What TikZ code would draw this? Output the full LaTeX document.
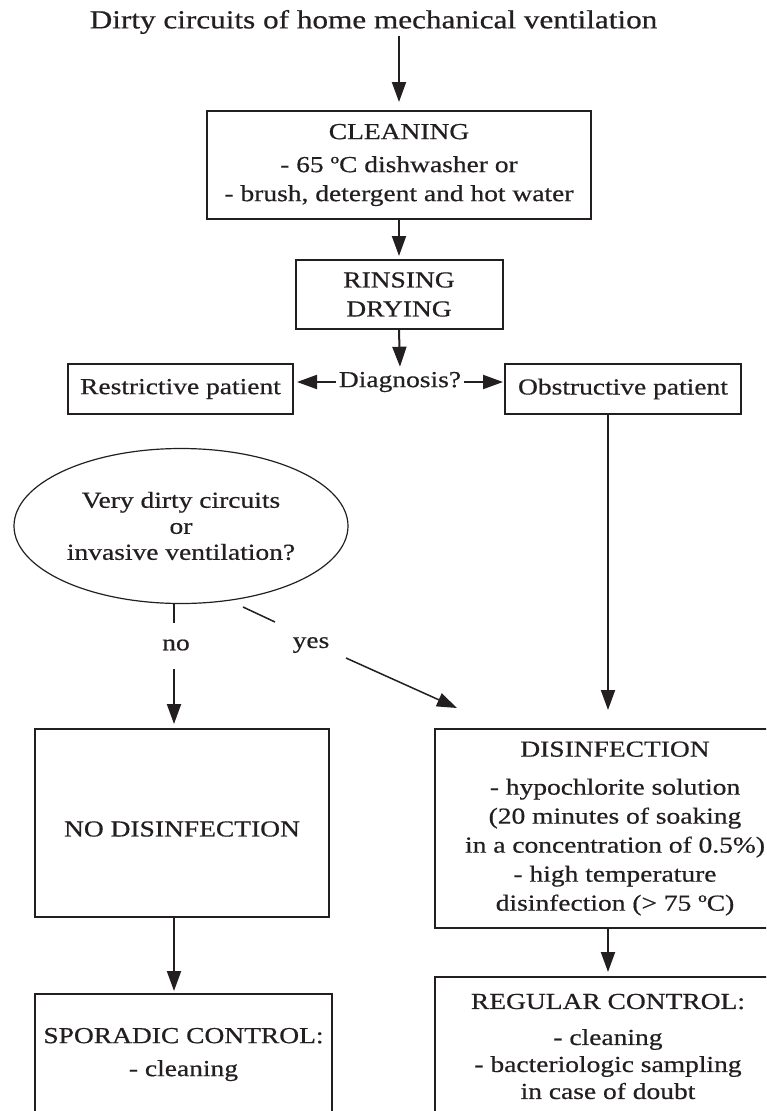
\documentclass[tikz,border=0pt]{standalone}
\usepackage{fontspec}
\setmainfont{Liberation Serif}[FakeStretch=1.2, FakeBold=0.6]
\usetikzlibrary{arrows.meta,shapes.geometric}
\definecolor{ink}{HTML}{231F20}
\newcommand{\bodyfnt}{\fontsize{22.9}{29}\selectfont}
\newcommand{\titlefnt}{\fontsize{26}{31}\selectfont}
\tikzset{
  every node/.style={font=\bodyfnt, text=ink},
  box/.style={draw=ink, line width=2pt, align=center, inner sep=0pt},
  arr/.style={draw=ink, fill=ink, -{Triangle[length=20pt,width=14pt]}, line width=2pt},
  ln/.style={draw=ink, line width=2pt},
}
\begin{document}
\begin{tikzpicture}[x=1pt,y=-1pt]
\useasboundingbox (0,0) rectangle (766,1111);
\clip (0,0) rectangle (766,1111);

\node[font=\titlefnt, inner sep=2pt] (title) at (373.5,22) {Dirty circuits of home mechanical ventilation};
\node[box, minimum width=384pt, minimum height=108pt] (clean) at (399,165)
  {CLEANING\\[4pt]- 65 ºC dishwasher or\\- brush, detergent and hot water};
\node[box, minimum width=207pt, minimum height=69pt] (rinse) at (399,294.5) {RINSING\\DRYING};
\node[inner sep=3pt] (diag) at (400,382) {Diagnosis?};
\node[box, minimum width=225pt, minimum height=50pt] (restr) at (180.5,389) {Restrictive patient};
\node[box, minimum width=236pt, minimum height=50pt] (obstr) at (623,389) {Obstructive patient};

\node[draw=ink, line width=1.2pt, ellipse, inner sep=0pt, align=center,
      minimum width=334pt, minimum height=155pt] (ell) at (181,526)
  {Very dirty circuits\\[-3pt]or\\[-3pt]invasive ventilation?};

\node[inner sep=0pt] (no) at (176,645) {no};
\node[inner sep=0pt] (yes) at (311,645) {yes};

\node[box, minimum width=294pt, minimum height=188pt] (nodis) at (182,823) {};
\node at ([yshift=-6pt]nodis.center) {NO DISINFECTION};
\node[box, minimum width=368pt, minimum height=199pt] (dis) at (619,828.5) {};
\node[align=center, inner sep=0pt] at ([xshift=-4pt]dis.center)
  {DISINFECTION\\[9pt]- hypochlorite solution\\(20 minutes of soaking\\in a concentration of 0.5\%)\\- high temperature\\disinfection (> 75 ºC)};
\node[box, minimum width=297pt, minimum height=121pt] (spor) at (183.5,1054.5)
  {SPORADIC CONTROL:\\[4pt]- cleaning};
\node[box, minimum width=346pt, minimum height=139pt] (reg) at (608,1046.5)
  {REGULAR CONTROL:\\[7pt]- cleaning\\[-2pt]- bacteriologic sampling\\[-2pt]in case of doubt};

\coordinate (noA) at (174,623);
\coordinate (noB) at (174,669);
\coordinate (yesA) at (243,607);
\coordinate (yesB) at (275,622);
\coordinate (yesC) at (346,658);
\coordinate (yesD) at (457,708);
\coordinate (obA) at (608,710);

\draw[arr, shorten >=8pt] (title.south -| clean.north) -- (clean.north);
\draw[arr, shorten >=3pt] (clean.south) -- (rinse.north);
\draw[arr, shorten >=2pt] (rinse.south) -- (diag.north);
\draw[arr, shorten >=3pt] (diag.west) -- (restr.east |- diag.west);
\draw[arr, shorten >=1pt] (diag.east) -- (obstr.west |- diag.east);
\draw[arr] (obstr.south -| obA) -- (obA);
\draw[ln] (ell.south -| noA) -- (noA);
\draw[arr, shorten >=4pt] (noB) -- (nodis.north -| noB);
\draw[draw=ink, line width=1.5pt] (yesA) -- (yesB);
\draw[arr, line width=1.5pt] (yesC) -- (yesD);
\draw[arr, shorten >=2pt] (nodis.south -| noA) -- (spor.north -| noA);
\draw[arr, shorten >=4pt] (dis.south -| obA) -- (reg.north -| obA);
\end{tikzpicture}
\end{document}
